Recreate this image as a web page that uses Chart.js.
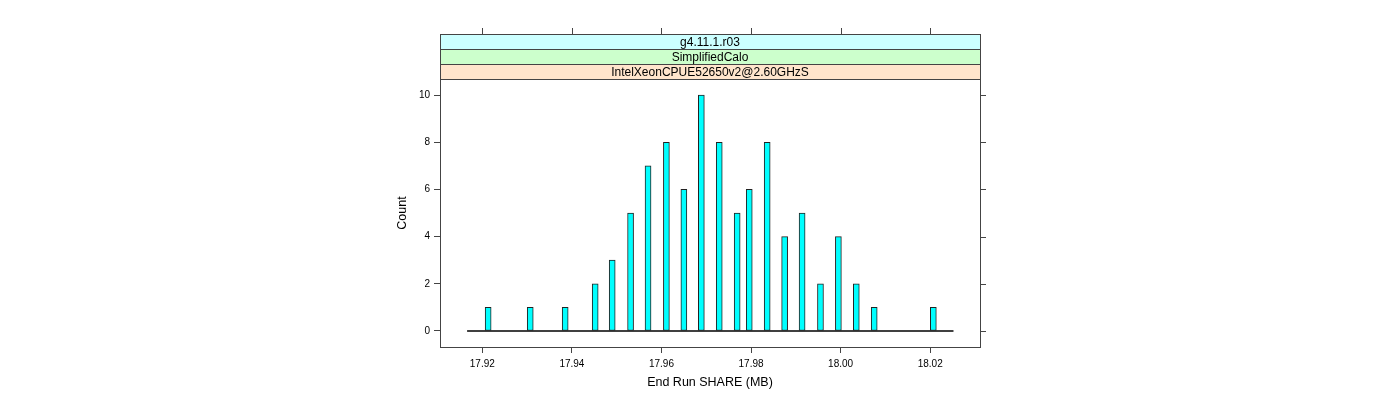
<!DOCTYPE html>
<html lang="en">
<head>
<meta charset="UTF-8">
<title>End Run SHARE (MB)</title>
<script src="https://cdn.jsdelivr.net/npm/chart.js"></script>
<style>
  html, body { margin: 0; padding: 0; background: #fff; }
</style>
</head>
<body>
<canvas id="chart" width="1400" height="400"></canvas>
<script>
// histogram values
const shareValues = [17.9213, 17.9307, 17.9385, 17.9452, 17.9490, 17.9531, 17.9570, 17.9611,
                     17.9650, 17.9689, 17.9729, 17.9769, 17.9796, 17.9836, 17.9875, 17.9914,
                     17.9955, 17.9995, 18.0035, 18.0075, 18.0207];
const counts = [1, 1, 1, 2, 3, 5, 7, 8, 6, 10, 8, 5, 6, 8, 4, 5, 2, 4, 2, 1, 1];
const baselineX = [17.9166, 18.0252];
const xTicks = [17.92, 17.94, 17.96, 17.98, 18.00, 18.02];
const yTicks = [0, 2, 4, 6, 8, 10];
const stripLabels = ['g4.11.1.r03', 'SimplifiedCalo', 'IntelXeonCPUE52650v2@2.60GHzS'];
const stripColors = ['#ccffff', '#ccffcc', '#ffe5cc'];

Chart.defaults.font.family = '"Liberation Sans", Arial, sans-serif';
Chart.defaults.font.size = 10;
Chart.defaults.color = '#000';

const frameColor = '#444';

// panel box, strips and the top/right tick marks lattice draws
const latticeFrame = {
  id: 'latticeFrame',
  afterDraw(chart) {
    const ctx = chart.ctx;
    const a = chart.chartArea;
    const xs = chart.scales.x, ys = chart.scales.y;
    const stripH = 15;
    const top0 = a.top - stripH * stripLabels.length;
    ctx.save();
    ctx.lineWidth = 1;
    ctx.strokeStyle = frameColor;
    stripLabels.forEach((label, i) => {
      const y = top0 + i * stripH;
      ctx.fillStyle = stripColors[i];
      ctx.fillRect(a.left, y, a.right - a.left, stripH);
      ctx.strokeRect(a.left + 0.5, y + 0.5, a.right - a.left, stripH);
      ctx.fillStyle = '#000';
      ctx.font = '12px "Liberation Sans", Arial, sans-serif';
      ctx.textAlign = 'center';
      ctx.textBaseline = 'middle';
      ctx.fillText(label, (a.left + a.right) / 2, y + stripH / 2 + 1);
    });
    ctx.strokeRect(a.left + 0.5, a.top + 0.5, a.right - a.left, a.bottom - a.top);
    ctx.beginPath();
    xTicks.forEach(v => {
      const px = Math.round(xs.getPixelForValue(v)) + 0.5;
      ctx.moveTo(px, top0);
      ctx.lineTo(px, top0 - 6);
    });
    yTicks.forEach(v => {
      const py = Math.round(ys.getPixelForValue(v)) + 0.5;
      ctx.moveTo(a.right, py);
      ctx.lineTo(a.right + 6, py);
    });
    ctx.stroke();
    ctx.restore();
  }
};

new Chart(document.getElementById('chart'), {
  type: 'bar',
  data: {
    datasets: [
      {
        type: 'line',
        data: baselineX.map(x => ({ x: x, y: 0 })),
        borderColor: '#000',
        borderWidth: 1.5,
        pointRadius: 0,
        order: 2
      },
      {
        type: 'bar',
        data: shareValues.map((x, i) => ({ x: x, y: counts[i] })),
        backgroundColor: '#00ffff',
        borderColor: '#222',
        borderWidth: 1,
        borderSkipped: false,
        barThickness: 6,
        order: 1
      }
    ]
  },
  options: {
    responsive: false,
    animation: false,
    layout: { padding: { left: 380, right: 420, top: 79, bottom: 0 } },
    plugins: { legend: { display: false }, tooltip: { enabled: false } },
    scales: {
      x: {
        type: 'linear',
        offset: false,
        min: 17.91055,
        max: 18.03112,
        afterBuildTicks: s => { s.ticks = xTicks.map(v => ({ value: v })); },
        afterFit: s => { s.height = 53; },
        ticks: { callback: v => v.toFixed(2), padding: 5, maxRotation: 0 },
        grid: { offset: false, drawOnChartArea: false, drawTicks: true, tickLength: 6, color: frameColor },
        border: { display: true, color: frameColor },
        title: { display: true, text: 'End Run SHARE (MB)', font: { size: 12.5 }, padding: { top: 0, bottom: 10 } }
      },
      y: {
        min: -0.68,
        max: 10.68,
        afterBuildTicks: s => { s.ticks = yTicks.map(v => ({ value: v })); },
        afterFit: s => { s.width = 60; },
        ticks: { padding: 4 },
        grid: { drawOnChartArea: false, drawTicks: true, tickLength: 6, color: frameColor },
        border: { display: true, color: frameColor },
        title: { display: true, text: 'Count', font: { size: 12.5 }, padding: { top: 15, bottom: 0 } }
      }
    }
  },
  plugins: [latticeFrame]
});
</script>
</body>
</html>
